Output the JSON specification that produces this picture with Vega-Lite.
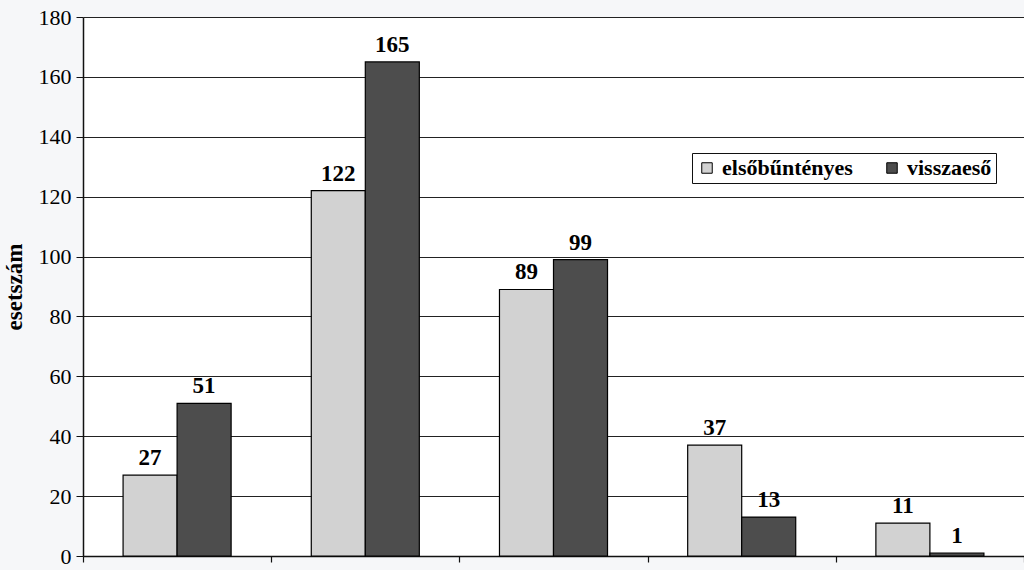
{
  "$schema": "https://vega.github.io/schema/vega-lite/v6.json",
  "autosize": "none",
  "width": 941,
  "height": 539,
  "padding": {"left": 83, "top": 17, "right": 0, "bottom": 14},
  "background": "#f6f7f9",
  "config": {
    "view": {"stroke": null, "fill": "#ffffff"},
    "font": "Liberation Serif"
  },
  "data": {
    "values": [
      {"cat": "1", "tipus": "elsőbűntényes", "n": 27},
      {"cat": "1", "tipus": "visszaeső", "n": 51},
      {"cat": "2", "tipus": "elsőbűntényes", "n": 122},
      {"cat": "2", "tipus": "visszaeső", "n": 165},
      {"cat": "3", "tipus": "elsőbűntényes", "n": 89},
      {"cat": "3", "tipus": "visszaeső", "n": 99},
      {"cat": "4", "tipus": "elsőbűntényes", "n": 37},
      {"cat": "4", "tipus": "visszaeső", "n": 13},
      {"cat": "5", "tipus": "elsőbűntényes", "n": 11},
      {"cat": "5", "tipus": "visszaeső", "n": 1}
    ]
  },
  "encoding": {
    "x": {
      "field": "cat",
      "type": "nominal",
      "scale": {"paddingInner": 0, "paddingOuter": 0},
      "axis": {
        "title": null,
        "labels": false,
        "domainColor": "#111",
        "domainWidth": 1.5,
        "tickColor": "#111",
        "tickSize": 6,
        "tickWidth": 1.2,
        "tickBand": "extent"
      }
    },
    "xOffset": {
      "field": "tipus",
      "type": "nominal",
      "sort": ["elsőbűntényes", "visszaeső"],
      "scale": {"paddingInner": 0, "paddingOuter": 0.742}
    },
    "y": {
      "field": "n",
      "type": "quantitative",
      "scale": {"domain": [0, 180]},
      "axis": {
        "values": [0, 20, 40, 60, 80, 100, 120, 140, 160, 180],
        "title": "esetszám",
        "titleFont": "Liberation Serif",
        "titleFontSize": 23,
        "titleFontWeight": "bold",
        "titleColor": "#000",
        "titlePadding": 12,
        "labelFont": "Liberation Serif",
        "labelFontSize": 22,
        "labelColor": "#000",
        "labelPadding": 5,
        "domainColor": "#111",
        "domainWidth": 1.5,
        "tickColor": "#111",
        "tickSize": 7,
        "grid": true,
        "gridColor": "#222",
        "gridWidth": 1.2
      }
    }
  },
  "layer": [
    {
      "mark": {"type": "bar", "stroke": "#000", "strokeWidth": 1.2},
      "encoding": {
        "color": {
          "field": "tipus",
          "type": "nominal",
          "sort": ["elsőbűntényes", "visszaeső"],
          "scale": {"domain": ["elsőbűntényes", "visszaeső"], "range": ["#d2d2d2", "#4d4d4d"]},
          "legend": {
            "title": null,
            "orient": "none",
            "legendX": 609,
            "legendY": 136,
            "direction": "horizontal",
            "symbolType": "square",
            "symbolSize": 110,
            "symbolStrokeColor": "#000",
            "symbolStrokeWidth": 1,
            "labelFont": "Liberation Serif",
            "labelFontSize": 22,
            "labelFontWeight": "bold",
            "labelColor": "#000",
            "labelLimit": 300,
            "columnPadding": 28,
            "strokeColor": "#111",
            "fillColor": "#ffffff",
            "padding": 4
          }
        }
      }
    },
    {
      "mark": {"type": "text", "dy": -17, "fontSize": 23, "fontWeight": "bold", "font": "Liberation Serif", "color": "#000"},
      "encoding": {
        "text": {"field": "n", "type": "quantitative"}
      }
    }
  ]
}
